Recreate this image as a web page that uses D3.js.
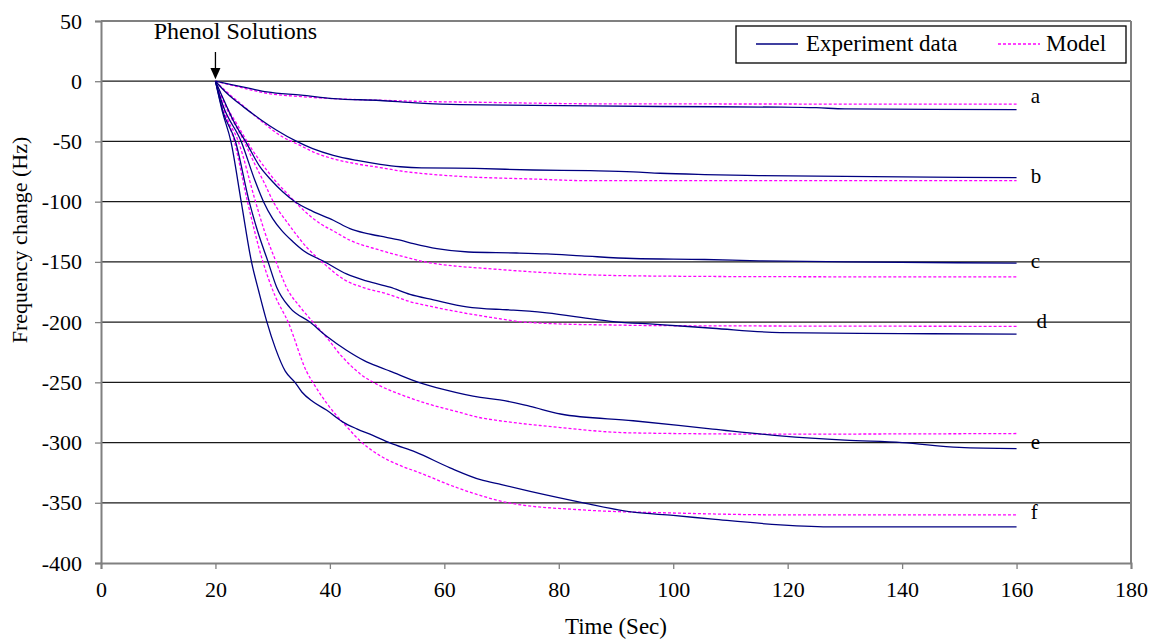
<!DOCTYPE html>
<html>
<head>
<meta charset="utf-8">
<script src="https://cdn.jsdelivr.net/npm/d3@7"></script>
<style>
  html, body { margin: 0; padding: 0; background: #fff; }
  svg { display: block; }
  svg text { font-family: "Liberation Serif", "Times New Roman", serif; fill: #000; }
</style>
</head>
<body>
<svg id="chart" width="1154" height="639"></svg>
<script>
// ---- data (time in s, frequency change in Hz) ----
const curveNames = ["a", "b", "c", "d", "e", "f"];

const expA = [[20,0],[23,-3],[26,-6],[29,-8.9],[35,-11.5],[40.6,-14.4],[48.8,-16],[55,-18],[62.7,-19.5],[75.5,-20],[97.7,-21],[118.7,-21.5],[125,-22],[130,-23],[160,-23.5]];
const modelA = [[20,0],[23,-3.5],[26,-7],[29,-10],[35,-12.8],[40.6,-14.5],[48.8,-15.8],[56,-16.8],[65,-17.4],[88,-18.8],[160,-19]];

const expB = [[20,0],[22,-10],[24.9,-21.3],[27.8,-31.5],[30.7,-40.7],[34.2,-50],[37,-56],[40.6,-61.6],[45,-66],[48.8,-69],[52.3,-71],[56,-72],[65.4,-72.4],[75.5,-73.7],[85.5,-74.3],[93,-75.2],[97.7,-76.4],[105.5,-77.5],[115,-78.3],[130,-79],[145,-79.7],[160,-80]];
const modelB = [[20,0],[22,-9],[25,-21],[28,-33],[31.3,-45],[34.8,-53.3],[37.5,-59.5],[40.6,-64.4],[44.5,-68.5],[48.8,-71.7],[52.3,-74.5],[56.3,-76.7],[62.7,-79],[75.5,-81.2],[85.5,-82.6],[160,-82.6]];

const expC = [[20,0],[21.5,-16],[23.1,-32.4],[25.5,-52],[27.8,-71.2],[29.8,-82.4],[31.8,-92],[33.9,-100],[37,-108],[40.6,-115.4],[43.5,-122.4],[46,-126],[48.8,-128.7],[52.3,-132],[54.6,-134.8],[58.7,-139],[64.2,-141.8],[72.6,-142.6],[77.9,-143.4],[84,-145],[93,-147.2],[105.5,-148],[115,-149.1],[130,-150],[160,-151]];
const modelC = [[20,0],[21.5,-17],[23.7,-35.2],[26.3,-56],[29,-74],[30.4,-82.4],[32.5,-93],[34.8,-104.4],[38.3,-118.2],[40.6,-124.3],[43.5,-132],[48.8,-140.3],[52.3,-145],[57.5,-150.8],[62,-153.5],[67.4,-155.5],[75.5,-158.3],[83,-160.3],[95.3,-161.7],[120,-162.3],[160,-162.5]];

const expD = [[20,0],[21.3,-20],[24.5,-50],[26.9,-82.4],[28.4,-100],[30,-114],[31.6,-124],[33.5,-133],[35.4,-140.7],[39.1,-150],[42.9,-160],[46.5,-166],[50.5,-171],[54,-177],[58.1,-181.5],[63.9,-187.3],[69.7,-189.5],[72.1,-190],[77.9,-192.3],[86,-197.5],[89.5,-199.6],[97,-201.8],[106.9,-205.1],[118.7,-208.7],[140,-209.5],[160,-210]];
const modelD = [[20,0],[21.5,-18],[25,-50],[27,-70],[28.7,-86],[30.1,-100],[32.7,-118.2],[35.9,-137.6],[39.1,-152],[42.6,-165],[46,-171.5],[49.9,-176.4],[54,-183],[58.1,-187.4],[63,-192],[69.7,-197.2],[72.1,-199],[80,-201.5],[87.8,-202.3],[100,-203],[160,-203.5]];

const expE = [[20,0],[21.3,-25],[23.5,-50],[25.9,-100],[27.4,-125],[29.2,-150],[30.7,-171],[33,-188],[36.5,-200],[39.5,-212],[42.9,-223.4],[46,-232],[48.8,-237.6],[50.5,-240.7],[55.5,-250],[60,-256],[66.3,-262.5],[69.7,-264.5],[75,-270],[80.3,-276.3],[93,-281.9],[106.9,-288.8],[118.7,-294.4],[130,-298],[140,-300],[150,-304],[160,-305]];
const modelE = [[20,0],[21.5,-25],[24,-50],[27,-100],[28.6,-125],[30.6,-150],[32.5,-172],[34.8,-187.4],[36.5,-197],[39.4,-212.6],[42,-228],[45.3,-243],[48.8,-253],[52.3,-260],[57.5,-268.4],[62.7,-275],[66.3,-279.4],[69.7,-281.9],[77.9,-286.4],[93,-292],[118,-293],[160,-292.5]];

const expF = [[20,0],[21.2,-25],[22.7,-50],[24.5,-100],[26.3,-150],[27.6,-175],[29,-200],[30.5,-222],[32.2,-240.7],[33.9,-250],[35.1,-258],[37,-266],[39.4,-273],[42.3,-283],[44.7,-288.6],[47.5,-294],[50.5,-300.3],[55,-308],[61,-321],[66.3,-330.8],[70,-335],[75,-340.5],[84.3,-350],[93,-357.8],[100,-360.5],[106.9,-363.6],[118.7,-368.3],[128,-370],[160,-370]];
const modelF = [[20,0],[21.6,-25],[23.3,-50],[25.6,-100],[28.3,-150],[30.4,-178],[32.7,-200],[35.9,-240.7],[37.4,-253],[39.4,-267],[41.2,-277.8],[42.6,-285],[45.3,-298.7],[48.8,-311],[52,-318.5],[55.8,-325.3],[61.6,-336.4],[66,-343.5],[71.5,-350.3],[83.7,-355.8],[101,-358.6],[118.7,-360],[160,-360]];

const experimentSeries = [expA, expB, expC, expD, expE, expF];
const modelSeries = [modelA, modelB, modelC, modelD, modelE, modelF];

// curve label anchor (time, value)
const labelTimes = [162.5, 162.5, 162.5, 163.5, 162.5, 162.5];
const labelValues = [-17.7, -84.5, -155, -205.3, -305.3, -363.6];

const xTicks = [0, 20, 40, 60, 80, 100, 120, 140, 160, 180];
const yTicks = [50, 0, -50, -100, -150, -200, -250, -300, -350, -400];
const gridValues = [0, -50, -100, -150, -200, -250, -300, -350];

const xTitle = "Time (Sec)";
const yTitle = "Frequency change (Hz)";
const legendLabels = ["Experiment data", "Model"];
const injectionTime = 20;
const injectionLabel = "Phenol Solutions";

// ---- drawing ----
const svg = d3.select("#chart");
const L = 101, R = 1131, T = 21, B = 563;
const x = d3.scaleLinear().domain([0, 180]).range([L, R]);
const y = d3.scaleLinear().domain([-400, 50]).range([B, T]);

const expColor = "#000080", modelColor = "#ff00ff", axisColor = "#808080";
const FONT = "'Liberation Serif', 'Times New Roman', serif";

// gridlines
svg.append("g").selectAll("line").data(gridValues).join("line")
  .attr("x1", L).attr("x2", R)
  .attr("y1", d => y(d)).attr("y2", d => y(d))
  .attr("stroke", "#1a1a1a").attr("stroke-width", 1.3);

// border top/right
svg.append("line").attr("x1", L).attr("x2", R).attr("y1", T).attr("y2", T)
  .attr("stroke", axisColor).attr("stroke-width", 2);
svg.append("line").attr("x1", R).attr("x2", R).attr("y1", T).attr("y2", B)
  .attr("stroke", axisColor).attr("stroke-width", 2);

// axes
const fmt = d => String(d);
const xAxis = d3.axisBottom(x).tickValues(xTicks).tickSize(6).tickPadding(12).tickFormat(fmt);
const yAxis = d3.axisLeft(y).tickValues(yTicks).tickSize(6).tickPadding(13).tickFormat(fmt);

const gx = svg.append("g").attr("transform", `translate(0,${B})`).call(xAxis);
const gy = svg.append("g").attr("transform", `translate(${L},0)`).call(yAxis);
[gx, gy].forEach(g => {
  g.attr("font-family", FONT).attr("font-size", 22);
  g.select(".domain").attr("stroke", axisColor).attr("stroke-width", 2);
  g.selectAll(".tick line").attr("stroke", axisColor).attr("stroke-width", 1.3);
  g.selectAll(".tick text").attr("fill", "#000")
    .style("font-family", FONT).style("font-size", "22px");
});

// axis titles
svg.append("text").attr("x", (L + R) / 2).attr("y", 634).attr("text-anchor", "middle")
  .style("font-family", FONT).style("font-size", "23px").text(xTitle);
svg.append("text").attr("transform", `translate(27,${240}) rotate(-90)`).attr("text-anchor", "middle")
  .style("font-family", FONT).style("font-size", "22px").text(yTitle);

// curves
const line = d3.line().x(d => x(d[0])).y(d => y(d[1])).curve(d3.curveMonotoneX);
const cg = svg.append("g");
cg.selectAll("path.model").data(modelSeries).join("path").attr("class", "model")
  .attr("d", line).attr("fill", "none").attr("stroke", modelColor)
  .attr("stroke-width", 1.3).attr("stroke-dasharray", "3,2");
cg.selectAll("path.exp").data(experimentSeries).join("path").attr("class", "exp")
  .attr("d", line).attr("fill", "none").attr("stroke", expColor).attr("stroke-width", 1.3);

// curve letters
svg.append("g").selectAll("text").data(curveNames).join("text")
  .attr("x", (d, i) => x(labelTimes[i])).attr("y", (d, i) => y(labelValues[i]))
  .style("font-family", FONT).style("font-size", "21px").text(d => d);

// injection annotation
svg.append("text").attr("x", x(injectionTime) + 20).attr("y", 39).attr("text-anchor", "middle")
  .style("font-family", FONT).style("font-size", "24px").text(injectionLabel);
const ax = x(injectionTime);
svg.append("line").attr("x1", ax).attr("x2", ax).attr("y1", 52).attr("y2", 70)
  .attr("stroke", "#000").attr("stroke-width", 1.3);
svg.append("path").attr("d", `M${ax - 5},68 L${ax + 5},68 L${ax},${y(0) - 2} Z`).attr("fill", "#000");

// legend
const lg = svg.append("g");
lg.append("rect").attr("x", 736).attr("y", 26).attr("width", 390).attr("height", 37)
  .attr("fill", "#fff").attr("stroke", "#000").attr("stroke-width", 1.3);
lg.append("line").attr("x1", 756).attr("x2", 798).attr("y1", 44).attr("y2", 44)
  .attr("stroke", expColor).attr("stroke-width", 1.3);
lg.append("text").attr("x", 806).attr("y", 51).style("font-family", FONT).style("font-size", "23px").text(legendLabels[0]);
lg.append("line").attr("x1", 998).attr("x2", 1040).attr("y1", 44).attr("y2", 44)
  .attr("stroke", modelColor).attr("stroke-width", 1.3).attr("stroke-dasharray", "3,2");
lg.append("text").attr("x", 1046).attr("y", 51).style("font-family", FONT).style("font-size", "23px").text(legendLabels[1]);
</script>
</body>
</html>
